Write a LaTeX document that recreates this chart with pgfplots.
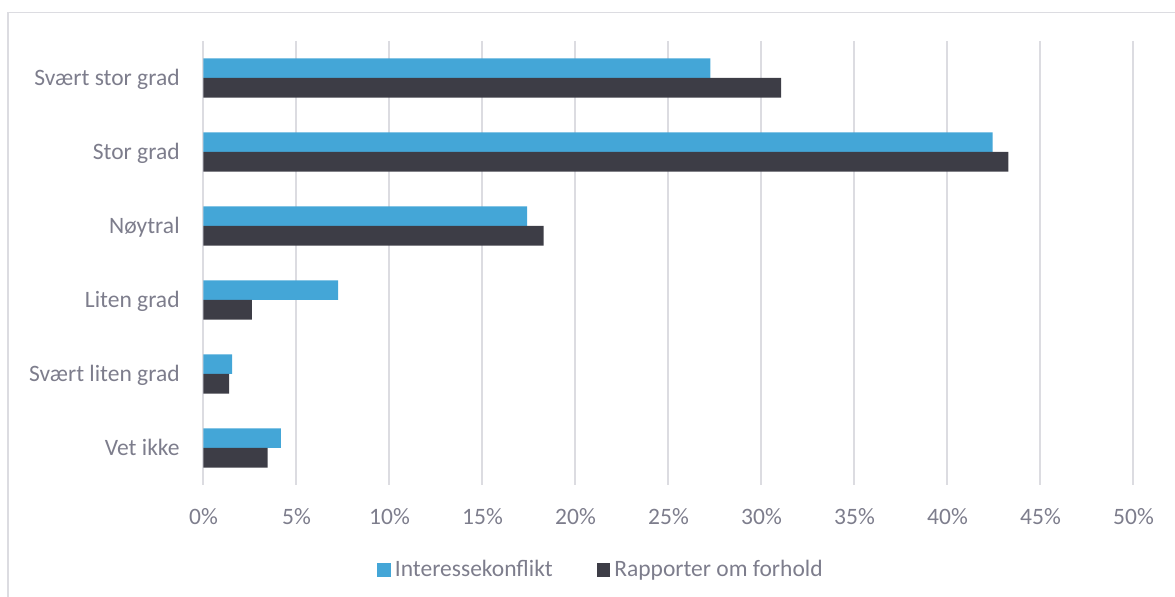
\documentclass[border=0pt]{standalone}
\usepackage{fontspec}
\setmainfont{Carlito}
\usepackage{pgfplots}
\pgfplotsset{compat=1.18}
\definecolor{cblue}{RGB}{68,166,215}
\definecolor{cdark}{RGB}{61,61,70}
\definecolor{ctext}{RGB}{125,125,140}
\definecolor{cgrid}{RGB}{220,220,225}
\begin{document}
\begin{tikzpicture}
\path[use as bounding box] (0pt,0pt) rectangle (587.5pt,298.5pt);
\draw[cgrid, line width=0.75pt] (4pt,0pt) -- (4pt,292.25pt) -- (587.5pt,292.25pt);
\begin{axis}[
  at={(101.75pt,56pt)}, anchor=south west,
  scale only axis, width=465pt, height=222pt,
  xbar, bar width=0.265,
  xmin=0, xmax=50,
  ymin=-0.5, ymax=5.5, y dir=reverse,
  ytick={0,1,2,3,4,5},
  yticklabels={Svært stor grad, Stor grad, Nøytral, Liten grad, Svært liten grad, Vet ikke},
  xtick={0,5,10,15,20,25,30,35,40,45,50},
  xticklabels={0\%,5\%,10\%,15\%,20\%,25\%,30\%,35\%,40\%,45\%,50\%},
  xmajorgrids, ymajorgrids=false,
  major grid style={cgrid, line width=1pt},
  axis line style={draw=none},
  major tick length=0pt, tick style={draw=none},
  ticklabel style={text=ctext, font=\fontsize{11.75}{14}\selectfont},
  xticklabel style={anchor=base, yshift=-20pt},
  yticklabel style={anchor=base east, inner sep=0pt, xshift=-11.75pt, yshift=-3.65pt},
  legend style={at={(0.4285,-0.1914)}, anchor=center, draw=none, fill=none,
    font=\fontsize{11.75}{14}\selectfont, text=ctext,
    /tikz/every even column/.append style={column sep=20pt}},
  legend columns=2,
]
\addplot[fill=cblue, draw=none, bar shift=-0.1325,
  legend image code/.code={\fill[cblue] (0pt,-3.4pt) rectangle (6.8pt,3.4pt);}]
  coordinates {(27.25,0) (42.43,1) (17.4,2) (7.24,3) (1.54,4) (4.16,5)};
\addplot[fill=cdark, draw=none, bar shift=0.1325,
  legend image code/.code={\fill[cdark] (0pt,-3.4pt) rectangle (6.8pt,3.4pt);}]
  coordinates {(31.06,0) (43.27,1) (18.29,2) (2.6,3) (1.38,4) (3.45,5)};
\legend{Interessekonflikt, Rapporter om forhold}
\end{axis}
\end{tikzpicture}
\end{document}
